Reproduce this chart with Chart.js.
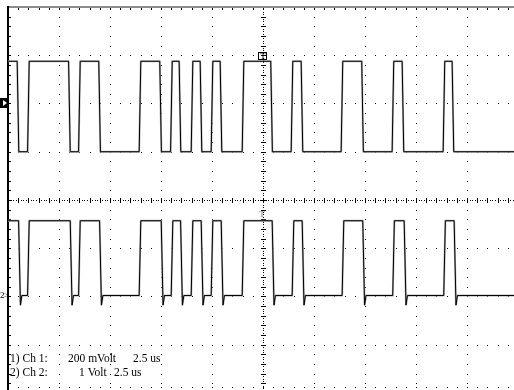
<!DOCTYPE html>
<html>
<head>
<meta charset="utf-8">
<script src="https://cdn.jsdelivr.net/npm/chart.js@4.4.1/dist/chart.umd.min.js"></script>
<style>
  html, body { margin: 0; padding: 0; background: #fff; }
  #wrap { width: 514px; height: 390px; }
</style>
</head>
<body>
<div id="wrap"><canvas id="scope" width="514" height="390"></canvas></div>
<script>
// edge times in microseconds (0 = screen centre)
const ch1Edges = [-12.01, -11.50, -9.49, -9.00, -8.01, -6.03, -5.02, -4.49, -4.07, -3.48, -3.04, -2.50,
  -2.06, -0.98, 0.42, 1.42, 1.91, 3.87, 4.88, 6.37, 6.86, 8.87, 9.31]
const ch2Edges = [-11.94, -11.50, -9.41, -9.00, -7.97, -6.03, -4.95, -4.46, -4.00, -3.48, -2.99, -2.50,
  -2.01, -0.98, 0.49, 1.47, 1.96, 3.92, 4.93, 6.40, 6.96, 8.90, 9.41]

// high / low levels in volts
const ch1Levels = [0.175, -0.2]
const ch2Levels = [1.57, 0.02]
const ch2Undershoot = -0.18

const voltsPerDiv = [0.2, 1]
const groundDiv = [2, -2]
const usPerDiv = 2.5

const channelLabels = ['1) Ch 1:', '2) Ch 2:']
const voltLabels = ['200 mVolt', '1 Volt']
const timeLabels = ['2.5 us', '2.5 us']

const xMin = -12.5
const xMax = 12.304
const yMin = -3.938
const yMax = 4

function buildTrace(edges, levels, vdiv, ground, undershoot) {
  const toDiv = v => ground + v / vdiv
  const pts = [{ x: xMin, y: toDiv(levels[0]) }]
  let high = true
  edges.forEach(t => {
    const from = high ? levels[0] : levels[1]
    const to = high ? levels[1] : levels[0]
    pts.push({ x: t - 0.04, y: toDiv(from) })
    if (high && undershoot !== undefined) {
      pts.push({ x: t + 0.05, y: toDiv(undershoot) })
      pts.push({ x: t + 0.12, y: toDiv(to) })
    } else {
      pts.push({ x: t + 0.04, y: toDiv(to) })
    }
    high = !high
  })
  pts.push({ x: xMax, y: toDiv(high ? levels[0] : levels[1]) })
  return pts
}

const ch1 = () => buildTrace(ch1Edges, ch1Levels, voltsPerDiv[0], groundDiv[0])
const ch2 = () => buildTrace(ch2Edges, ch2Levels, voltsPerDiv[1], groundDiv[1], ch2Undershoot)

const scopeGrid = {
  id: 'scopeGrid',
  beforeDatasetsDraw(chart) {
    const { ctx, scales: { x, y } } = chart
    const px = v => Math.round(x.getPixelForValue(v))
    const py = v => Math.round(y.getPixelForValue(v))
    ctx.save()
    ctx.fillStyle = '#000'

    // dotted grid lines
    for (let i = -4; i <= 4; i++) {
      if (i === 0) continue
      const gx = px(i * usPerDiv)
      for (let k = 0; k <= 40; k++) ctx.fillRect(gx, py(4 - k * 0.2), 1, 1)
    }
    for (let j = -3; j <= 3; j++) {
      if (j === 0) continue
      const gy = py(j)
      for (let k = 0; k <= 50; k++) ctx.fillRect(px(xMin + k * 0.5), gy, 1, 1)
    }

    // centre lines with small ticks
    const cx = px(0)
    const cy = py(0)
    for (let k = 0; k <= 160; k++) ctx.fillRect(cx, py(4 - k * 0.05), 1, 1)
    for (let k = 0; k <= 40; k++) ctx.fillRect(cx - 2, py(4 - k * 0.2), 5, 1)
    for (let k = 0; k <= 200; k++) ctx.fillRect(px(xMin + k * 0.125), cy, 1, 1)
    for (let k = 0; k <= 50; k++) ctx.fillRect(px(xMin + k * 0.5), cy - 2, 1, 5)

    // border ticks
    for (let k = 1; k <= 50; k++) ctx.fillRect(px(xMin + k * 0.5), 8, 1, 2)
    for (let k = 1; k <= 40; k++) ctx.fillRect(9, py(4 - k * 0.2), 2, 1)
    for (let k = 1; k <= 50; k++) ctx.fillRect(px(xMin + k * 0.5), 387, 1, 1)

    // top and left frame
    ctx.fillStyle = '#8c8c8c'
    ctx.fillRect(8, 6, 506, 2)
    ctx.fillStyle = '#000'
    ctx.fillRect(7, 6, 2, 384)
    ctx.restore()
  },
  afterDatasetsDraw(chart) {
    const { ctx, scales: { x, y } } = chart
    ctx.save()

    // channel ground markers
    const g1 = Math.round(y.getPixelForValue(groundDiv[0]))
    ctx.fillStyle = '#000'
    ctx.fillRect(0, g1 - 5, 8, 10)
    ctx.fillStyle = '#fff'
    ctx.beginPath()
    ctx.moveTo(3, g1 - 3)
    ctx.lineTo(7, g1)
    ctx.lineTo(3, g1 + 3)
    ctx.closePath()
    ctx.fill()

    const g2 = Math.round(y.getPixelForValue(groundDiv[1]))
    ctx.fillStyle = '#000'
    ctx.font = '9px "Liberation Serif"'
    ctx.textBaseline = 'middle'
    ctx.fillText('2', 0, g2)
    ctx.fillText('>', 4, g2)

    // trigger markers
    const tx = Math.round(x.getPixelForValue(0))
    ctx.strokeStyle = '#000'
    ctx.lineWidth = 1
    ctx.strokeRect(tx - 4.5, 52.5, 8, 7)
    ctx.font = '9px "Liberation Serif"'
    ctx.textAlign = 'center'
    ctx.fillText('T', tx, 57)
    ctx.fillStyle = '#777'
    ctx.fillText('T', tx - 1, 215)

    // channel settings text
    ctx.fillStyle = '#000'
    ctx.textAlign = 'left'
    ctx.textBaseline = 'alphabetic'
    ctx.font = '11.5px "Liberation Serif"'
    ctx.fillText(channelLabels[0], 10, 362)
    ctx.fillText(voltLabels[0], 68, 362)
    ctx.fillText(timeLabels[0], 133, 362)
    ctx.fillText(channelLabels[1], 10, 376)
    ctx.fillText(voltLabels[1], 79, 376)
    ctx.fillText(timeLabels[1], 114, 376)
    ctx.restore()
  }
}

// Chart.js paints the first dataset last, so the black traces go first
new Chart(document.getElementById('scope'), {
  type: 'line',
  data: {
    datasets: [
      { data: ch1(), borderColor: '#000', borderWidth: 1 },
      { data: ch2(), borderColor: '#000', borderWidth: 1 },
      { data: ch1(), borderColor: '#b4b4b4', borderWidth: 2 },
      { data: ch2(), borderColor: '#b4b4b4', borderWidth: 2 }
    ]
  },
  options: {
    responsive: false,
    animation: false,
    layout: { padding: { left: 8, top: 7, right: 0, bottom: 0 } },
    elements: { point: { radius: 0 }, line: { tension: 0 } },
    plugins: { legend: { display: false }, tooltip: { enabled: false } },
    scales: {
      x: { type: 'linear', display: false, min: xMin, max: xMax },
      y: { display: false, min: yMin, max: yMax }
    }
  },
  plugins: [scopeGrid]
})
</script>
</body>
</html>
